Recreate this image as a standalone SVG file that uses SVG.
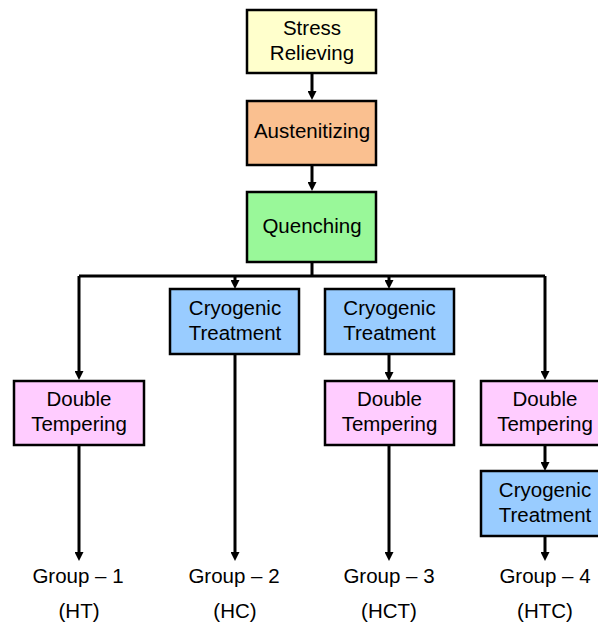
<svg xmlns="http://www.w3.org/2000/svg" width="598" height="626" viewBox="0 0 598 626">
<defs>
<style>
.box{stroke:#000;stroke-width:2.5}
.t{font-family:"Liberation Sans",Arial,sans-serif;font-size:20.5px;fill:#000;text-anchor:middle}
.c{fill:none;stroke:#000;stroke-width:3}
.y{fill:#FFFFCC}.o{fill:#FAC090}.g{fill:#99F899}.b{fill:#99CCFF}.p{fill:#FFCCFF}
</style>
<marker id="ah" markerUnits="userSpaceOnUse" markerWidth="9" markerHeight="9" viewBox="0 0 10 10" refX="5.5" refY="5" orient="auto">
<path d="M0,0 L10,5 L0,10 z" fill="#000"/>
</marker>
</defs>
<rect width="598" height="626" fill="#fff"/>
<g id="connectors">
<path class="c" d="M312,73 V96" marker-end="url(#ah)"/>
<path class="c" d="M312,165 V187" marker-end="url(#ah)"/>
<path class="c" d="M312,262 V276 M79,276 H545"/>
<path class="c" d="M79,276 V376" marker-end="url(#ah)"/>
<path class="c" d="M235,276 V285" marker-end="url(#ah)"/>
<path class="c" d="M389,276 V285" marker-end="url(#ah)"/>
<path class="c" d="M545,276 V376" marker-end="url(#ah)"/>
<path class="c" d="M389,354 V377" marker-end="url(#ah)"/>
<path class="c" d="M79,445 V557" marker-end="url(#ah)"/>
<path class="c" d="M235,354 V557" marker-end="url(#ah)"/>
<path class="c" d="M389,445 V557" marker-end="url(#ah)"/>
<path class="c" d="M545,445 V467" marker-end="url(#ah)"/>
<path class="c" d="M545,536 V557" marker-end="url(#ah)"/>
</g>
<g id="stress-relieving"><rect class="box y" x="247" y="10" width="129" height="63"/><text class="t" x="312" y="35">Stress</text><text class="t" x="312" y="60">Relieving</text></g>
<g id="austenitizing"><rect class="box o" x="247" y="101" width="129" height="64"/><text class="t" x="312" y="138">Austenitizing</text></g>
<g id="quenching"><rect class="box g" x="247" y="192" width="129" height="70"/><text class="t" x="312" y="233">Quenching</text></g>
<g id="cryo-2"><rect class="box b" x="170" y="289" width="129" height="65"/><text class="t" x="235" y="315">Cryogenic</text><text class="t" x="235" y="340">Treatment</text></g>
<g id="cryo-3"><rect class="box b" x="325" y="289" width="129" height="65"/><text class="t" x="389.5" y="315">Cryogenic</text><text class="t" x="389.5" y="340">Treatment</text></g>
<g id="dt-1"><rect class="box p" x="14" y="381" width="130" height="64"/><text class="t" x="79" y="406">Double</text><text class="t" x="79" y="431">Tempering</text></g>
<g id="dt-3"><rect class="box p" x="325" y="381" width="129" height="64"/><text class="t" x="389.5" y="406">Double</text><text class="t" x="389.5" y="431">Tempering</text></g>
<g id="dt-4"><rect class="box p" x="481" y="381" width="129" height="64"/><text class="t" x="545" y="406">Double</text><text class="t" x="545" y="431">Tempering</text></g>
<g id="cryo-4"><rect class="box b" x="481" y="471" width="129" height="65"/><text class="t" x="545" y="497">Cryogenic</text><text class="t" x="545" y="522">Treatment</text></g>
<g id="group-1"><text class="t" x="78" y="583">Group – 1</text><text class="t" x="79" y="618">(HT)</text></g>
<g id="group-2"><text class="t" x="234" y="583">Group – 2</text><text class="t" x="235" y="618">(HC)</text></g>
<g id="group-3"><text class="t" x="389" y="583">Group – 3</text><text class="t" x="389" y="618">(HCT)</text></g>
<g id="group-4"><text class="t" x="545" y="583">Group – 4</text><text class="t" x="545" y="618">(HTC)</text></g>
</svg>
